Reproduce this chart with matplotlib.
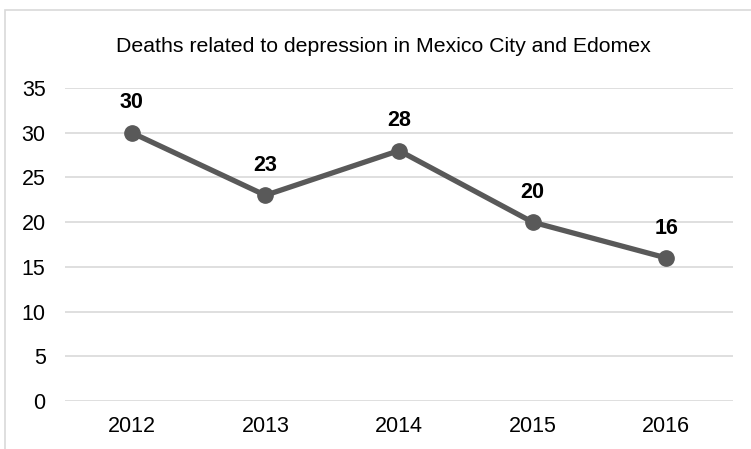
import matplotlib
matplotlib.use('Agg')
import matplotlib.pyplot as plt
from matplotlib.patches import Rectangle

years = ['2012', '2013', '2014', '2015', '2016']
deaths = [30, 23, 28, 20, 16]
yticks = [0, 5, 10, 15, 20, 25, 30, 35]

plt.rcParams['font.family'] = ['Liberation Sans', 'DejaVu Sans']

fig = plt.figure(figsize=(7.51, 4.49), dpi=100)
ax = fig.add_axes([65 / 751, 1 - 401 / 449, 668 / 751, 313 / 449])

# outer chart frame
fig.patches.append(Rectangle((5 / 751, -0.1), 1.2, 1 - 10.5 / 449 + 0.1,
                             transform=fig.transFigure, fill=False,
                             edgecolor='#d9d9d9', linewidth=1.2))

x = list(range(len(years)))
ax.plot(x, deaths, color='#595959', linewidth=3.8, marker='o',
        markersize=11, zorder=3)
for xi, v in zip(x, deaths):
    ax.annotate(str(v), (xi, v), xytext=(0, 21.5), textcoords='offset points',
                ha='center', va='center', fontsize=15.5, fontweight='bold')

ax.set_xlim(-0.5, 4.5)
ax.set_ylim(0, 35)
ax.set_yticks(yticks)
ax.set_xticks(x)
ax.set_xticklabels(years)
ax.grid(axis='y', color='#d9d9d9', linewidth=1.2)
ax.set_axisbelow(True)
for s in ax.spines.values():
    s.set_visible(False)
ax.tick_params(length=0, labelsize=15.5, pad=14)
ax.tick_params(axis='x', pad=11)

fig.text(383 / 751, 1 - 47 / 449, 'Deaths related to depression in Mexico City and Edomex',
         ha='center', va='center', fontsize=15.3)

fig.savefig('out.png', dpi=100)
